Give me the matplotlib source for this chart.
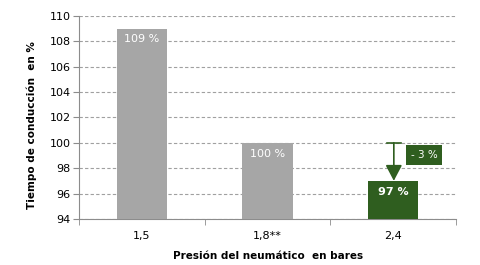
import numpy as np
import matplotlib.pyplot as plt

categories = ['1,5', '1,8**', '2,4']
values = [109, 100, 97]
labels = ['109 %', '100 %', '97 %']
colors = ['#A6A6A6', '#A6A6A6', '#2F5E1F']
diff_label = '- 3 %'

fig = plt.figure(figsize=(4.8, 2.65), dpi=100)
ax = fig.add_axes([0.165, 0.174, 0.785, 0.766])

x = np.arange(len(categories))
bars = ax.bar(x, values, width=0.4, color=colors, bottom=0, zorder=3)

ax.set_ylim(94, 110)
ax.set_xlim(-0.5, len(categories) - 0.5)
ax.set_yticks(np.arange(94, 111, 2))
ax.yaxis.grid(True, linestyle=(0, (3, 2)), color='#A0A0A0', linewidth=0.8, zorder=0)
ax.set_axisbelow(True)

for s in ['top', 'right']:
    ax.spines[s].set_visible(False)
for s in ['left', 'bottom']:
    ax.spines[s].set_color('#8C8C8C')
    ax.spines[s].set_linewidth(0.8)

ax.set_xticks(x)
ax.set_xticklabels(categories)
ax.set_xticks(np.arange(-0.5, len(categories)), minor=True)
ax.tick_params(axis='x', which='major', length=0, labelsize=8, pad=9)
ax.tick_params(axis='x', which='minor', length=4, color='#8C8C8C')
ax.tick_params(axis='y', length=4, color='#8C8C8C', labelsize=8, pad=2)

for xi, v, lab in zip(x, values, labels):
    ax.text(xi, v - 0.85, lab, color='white', ha='center', va='center',
            fontsize=8, fontweight='bold' if v == 97 else 'normal', zorder=4)

# difference arrow from 100 to 97
ax.plot([1.95, 2.06], [100, 100], color='#2F5E1F', linewidth=1.2, zorder=4)
ax.annotate('', xy=(2.005, values[2]), xytext=(2.005, values[1]),
            arrowprops=dict(arrowstyle='-|>,head_width=0.42,head_length=0.8',
                            mutation_scale=12, color='#2F5E1F', linewidth=1.2,
                            shrinkA=0, shrinkB=0),
            zorder=4)
ax.text(2.245, 99.05, diff_label, color='white', ha='center', va='center', fontsize=7.5,
        bbox=dict(boxstyle='square,pad=0.45', facecolor='#2F5E1F', edgecolor='none'),
        zorder=4)

ax.set_ylabel('Tiempo de conducción  en %', fontsize=7.5, fontweight='bold', labelpad=9, y=0.46)
ax.set_xlabel('Presión del neumático  en bares', fontsize=7.5, fontweight='bold', labelpad=7)

fig.savefig('out.png', dpi=100)
